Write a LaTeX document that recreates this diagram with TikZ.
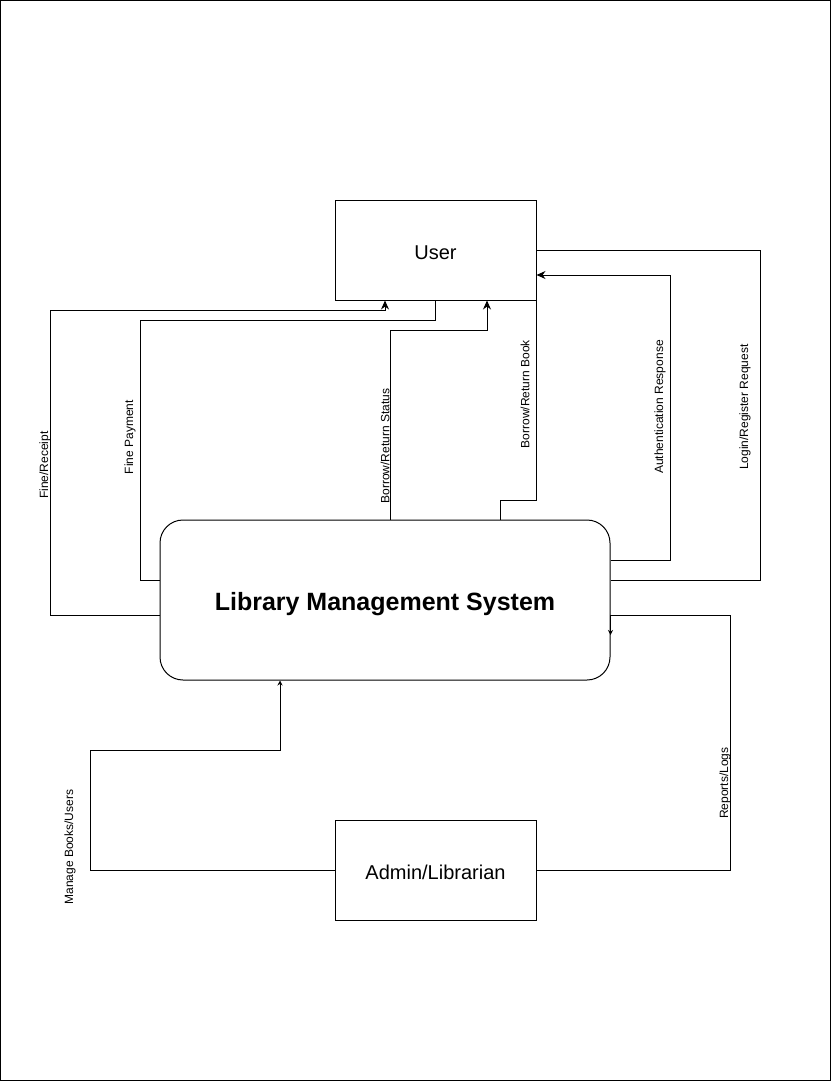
\documentclass[tikz,border=0pt]{standalone}
\usepackage{fontspec}
\setmainfont{Liberation Sans}
\usetikzlibrary{arrows.meta}
\tikzset{
  box/.style={draw=black, line width=1pt, minimum width=201pt, minimum height=100pt, inner sep=0pt, text height=18.3pt, text depth=0pt, font=\fontsize{20}{24}\selectfont},
  sysbox/.style={draw=black, line width=1pt, rounded corners=23pt, minimum width=450pt, minimum height=160pt, inner sep=0pt, text height=26pt, text depth=5.3pt, font=\fontsize{25}{30}\selectfont\bfseries},
  flow/.style={draw=black, line width=1pt},
  arr/.style={flow, -{Stealth[length=9pt,width=8pt]}},
  tinyarr/.style={flow, -{Stealth[length=5pt,width=5pt]}},
  lbl/.style={rotate=90, font=\fontsize{12}{14}\selectfont, inner sep=0pt}
}
\begin{document}
\begin{tikzpicture}[x=1pt,y=-1pt]
\useasboundingbox (0,0) rectangle (831,1081);
\draw[line width=1pt] (0.5,0.5) rectangle (830.5,1080.5);

\node[box] (user) at (435.5,250) {User};
\node[sysbox] (lms) at (385,600) {Library Management System};
\node[box] (admin) at (435.5,870) {Admin/Librarian};

% Fine/Receipt
\draw[arr] ([yshift=-15pt]lms.west) -| (50,310) -| ([xshift=-50.5pt]user.south);
\node[lbl] (l1) at (45,465) {Fine/Receipt};
% Fine Payment
\draw[flow] (user.south) |- (140,320) |- ([yshift=20pt]lms.west);
\node[lbl] (l2) at (130,437) {Fine Payment};
% Borrow/Return Status
\draw[arr] ([xshift=5pt]lms.north) |- (487,330) -- ([xshift=51.5pt]user.south);
\node[lbl] (l3) at (385,446) {Borrow/Return Status};
% Borrow/Return Book
\draw[flow] (user.south east) |- (500,500) -- ([xshift=115pt]lms.north);
\node[lbl] (l4) at (525,394) {Borrow/Return Book};
% Authentication Response
\draw[arr] ([yshift=40pt]lms.east) -| (670,275) -- ([yshift=-25pt]user.east);
\node[lbl] (l5) at (660,407) {Authentication Response};
% Login/Register Request
\draw[flow] (user.east) -| (760,580) -- ([yshift=20pt]lms.east);
\node[lbl] (l6) at (745,407) {Login/Register Request};
% Reports/Logs
\draw[tinyarr] (admin.east) -| (730,615) -- ([yshift=-15pt]lms.east) -- ([yshift=-35pt]lms.east);
\node[lbl] (l7) at (725,783) {Reports/Logs};
% Manage Books/Users
\draw[tinyarr] (admin.west) -| (90,750) -| ([xshift=-105pt]lms.south);
\node[lbl] (l8) at (70,847) {Manage Books/Users};
\end{tikzpicture}
\end{document}
